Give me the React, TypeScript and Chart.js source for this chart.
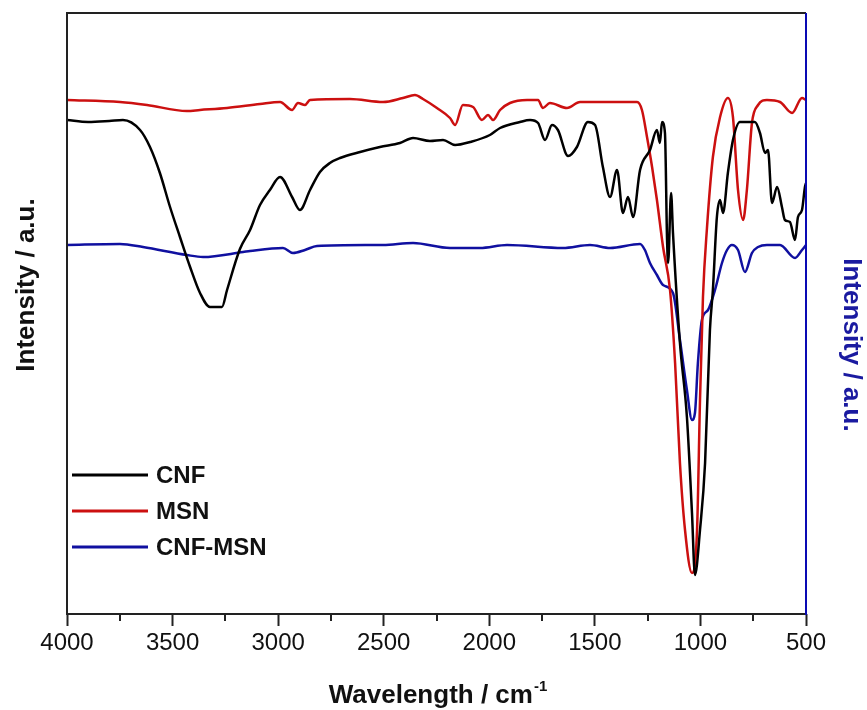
import React, { useEffect, useRef } from "react";
import { Chart, registerables } from "chart.js";

Chart.register(...registerables);

// FTIR spectra: wavenumber (cm-1) and relative intensity (a.u.)
const CNF_X = [4000, 3900, 3800, 3735, 3654, 3607, 3560, 3512, 3465, 3417, 3370, 3323, 3266, 3242, 3181, 3133, 3086, 3039, 2991, 2934, 2897, 2849, 2802, 2755, 2707, 2612, 2518, 2423, 2361, 2281, 2219, 2162, 2091, 1997, 1949, 1855, 1807, 1769, 1736, 1703, 1675, 1627, 1585, 1533, 1499, 1462, 1428, 1395, 1367, 1343, 1319, 1286, 1239, 1206, 1192, 1182, 1168, 1158, 1153, 1139, 1130, 1097, 1064, 1040, 1026, 1002, 978, 955, 941, 922, 907, 893, 870, 846, 813, 742, 718, 694, 680, 661, 637, 614, 600, 576, 552, 538, 519, 505, 500];
const CNF_Y = [494, 492, 493, 494, 484, 467, 441, 407, 377, 347, 321, 307, 307, 324, 365, 384, 409, 424, 437, 417, 404, 424, 442, 451, 456, 462, 467, 471, 476, 473, 474, 469, 472, 479, 486, 492, 494, 491, 474, 489, 484, 458, 467, 492, 489, 447, 417, 444, 401, 417, 397, 444, 464, 484, 471, 492, 481, 374, 351, 421, 381, 271, 197, 101, 39, 84, 151, 284, 324, 397, 414, 401, 441, 474, 492, 492, 481, 461, 464, 411, 427, 407, 394, 392, 374, 397, 404, 427, 431];

const MSN_X = [4000, 3749, 3621, 3432, 3370, 3242, 3086, 2991, 2934, 2906, 2873, 2849, 2660, 2503, 2409, 2352, 2314, 2248, 2186, 2162, 2125, 2077, 2035, 2006, 1982, 1949, 1902, 1821, 1769, 1746, 1713, 1632, 1570, 1300, 1277, 1253, 1229, 1206, 1177, 1144, 1120, 1097, 1073, 1040, 1016, 1002, 988, 969, 941, 907, 870, 846, 822, 798, 780, 756, 727, 685, 623, 566, 519, 500];
const MSN_Y = [514, 512, 509, 503, 504, 506, 510, 512, 504, 511, 509, 514, 515, 512, 516, 519, 515, 506, 496, 489, 509, 507, 494, 499, 494, 504, 511, 514, 514, 506, 511, 506, 512, 512, 504, 477, 447, 414, 367, 324, 251, 151, 84, 41, 84, 214, 317, 386, 457, 497, 516, 497, 424, 394, 424, 491, 509, 514, 512, 501, 516, 514];

const CNF_MSN_X = [4000, 3749, 3640, 3432, 3356, 3166, 3133, 2977, 2930, 2873, 2816, 2503, 2361, 2186, 2044, 1916, 1651, 1523, 1428, 1286, 1263, 1239, 1206, 1177, 1130, 1097, 1064, 1040, 1026, 1012, 993, 964, 931, 898, 874, 851, 822, 789, 756, 727, 685, 623, 552, 519, 500];
const CNF_MSN_Y = [369, 370, 367, 359, 357, 362, 363, 366, 361, 364, 368, 369, 371, 366, 366, 369, 366, 369, 366, 370, 364, 351, 339, 329, 321, 274, 224, 194, 201, 251, 294, 304, 324, 351, 364, 369, 364, 342, 361, 367, 369, 369, 356, 364, 369];

const SERIES_NAMES = ["CNF", "MSN", "CNF-MSN"];
const SERIES_COLORS = ["#000000", "#cc1010", "#1010a0"];
const X_TICKS_MAJOR = [4000, 3500, 3000, 2500, 2000, 1500, 1000, 500];
const X_TICKS_MINOR = [3750, 3250, 2750, 2250, 1750, 1250, 750];

const FONT = "'Liberation Sans', Arial, Helvetica, sans-serif";
const AXIS_BLUE = "#0a0ab4";
const TITLE_BLUE = "#1a1aa0";

const toPoints = (xs: number[], ys: number[]) => xs.map((x, i) => ({ x, y: ys[i] }));

const framePlugin = {
  id: "frame",
  afterDraw(chart: any) {
    const { ctx, chartArea } = chart;
    const { left, right, top, bottom } = chartArea;
    const xScale = chart.scales.x;
    ctx.save();

    // plot frame: black on three sides, blue on the right-hand axis
    ctx.lineWidth = 2;
    ctx.strokeStyle = "#222";
    ctx.beginPath();
    ctx.moveTo(right, top);
    ctx.lineTo(left, top);
    ctx.lineTo(left, bottom);
    ctx.lineTo(right, bottom);
    ctx.stroke();
    ctx.strokeStyle = AXIS_BLUE;
    ctx.beginPath();
    ctx.moveTo(right, top);
    ctx.lineTo(right, bottom + 1);
    ctx.stroke();

    // minor ticks
    ctx.strokeStyle = "#222";
    ctx.lineWidth = 2;
    X_TICKS_MINOR.forEach((v) => {
      const px = Math.round(xScale.getPixelForValue(v));
      ctx.beginPath();
      ctx.moveTo(px, bottom);
      ctx.lineTo(px, bottom + 7);
      ctx.stroke();
    });

    // x axis title with superscript
    const main = "Wavelength / cm";
    const sup = "-1";
    ctx.fillStyle = "#111";
    ctx.textBaseline = "alphabetic";
    ctx.textAlign = "left";
    ctx.font = `bold 26px ${FONT}`;
    const wMain = ctx.measureText(main).width;
    ctx.font = `bold 15px ${FONT}`;
    const wSup = ctx.measureText(sup).width;
    const cx = (left + right) / 2 + 1;
    const startX = cx - (wMain + wSup) / 2;
    ctx.font = `bold 26px ${FONT}`;
    ctx.fillText(main, startX, 703);
    ctx.font = `bold 15px ${FONT}`;
    ctx.fillText(sup, startX + wMain + 1, 691);

    // left y title
    ctx.font = `bold 26px ${FONT}`;
    ctx.textAlign = "center";
    ctx.textBaseline = "middle";
    ctx.save();
    ctx.translate(27, 285);
    ctx.rotate(-Math.PI / 2);
    ctx.fillText("Intensity / a.u.", 0, 0);
    ctx.restore();

    // right y title
    ctx.save();
    ctx.fillStyle = TITLE_BLUE;
    ctx.translate(851, 345);
    ctx.rotate(Math.PI / 2);
    ctx.fillText("Intensity / a.u.", 0, 0);
    ctx.restore();

    // legend
    const rows = [475, 511, 547];
    chart.data.datasets.forEach((ds: any, i: number) => {
      const y = rows[i];
      ctx.strokeStyle = ds.borderColor;
      ctx.lineWidth = 3;
      ctx.beginPath();
      ctx.moveTo(72, y);
      ctx.lineTo(148, y);
      ctx.stroke();
      ctx.fillStyle = "#111";
      ctx.font = `bold 24px ${FONT}`;
      ctx.textAlign = "left";
      ctx.textBaseline = "middle";
      ctx.fillText(ds.label, 156, y + 1);
    });

    ctx.restore();
  },
};

export default function App() {
  const canvasRef = useRef<HTMLCanvasElement | null>(null);

  useEffect(() => {
    const canvas = canvasRef.current;
    if (!canvas) return;
    const seriesX = [CNF_X, MSN_X, CNF_MSN_X];
    const seriesY = [CNF_Y, MSN_Y, CNF_MSN_Y];
    const chart = new Chart(canvas, {
      type: "line",
      data: {
        datasets: SERIES_NAMES.map((name, i) => ({
          label: name,
          data: toPoints(seriesX[i], seriesY[i]),
          borderColor: SERIES_COLORS[i],
          backgroundColor: SERIES_COLORS[i],
          borderWidth: 2.5,
          pointRadius: 0,
          cubicInterpolationMode: "monotone",
          fill: false,
        })),
      },
      options: {
        animation: false,
        responsive: false,
        maintainAspectRatio: false,
        layout: { padding: { left: 67, right: 61, top: 13, bottom: 0 } },
        plugins: { legend: { display: false }, tooltip: { enabled: false } },
        scales: {
          x: {
            type: "linear",
            reverse: true,
            min: 500,
            max: 4000,
            afterFit: (scale: any) => {
              scale.height = 96;
            },
            afterBuildTicks: (scale: any) => {
              scale.ticks = X_TICKS_MAJOR.map((v) => ({ value: v }));
            },
            border: { display: false },
            grid: {
              drawOnChartArea: false,
              drawTicks: true,
              tickLength: 12,
              tickWidth: 2,
              tickColor: "#222",
            },
            ticks: {
              autoSkip: false,
              maxRotation: 0,
              padding: 3,
              color: "#111",
              font: { family: FONT, size: 24 },
              callback: (v: any) => String(v),
            },
          },
          y: {
            display: false,
            min: 0,
            max: 601,
          },
        },
      },
      plugins: [framePlugin],
    });
    return () => chart.destroy();
  }, []);

  return (
    <div style={{ position: "absolute", left: 0, top: 0, width: 867, height: 710, background: "#fff" }}>
      <canvas ref={canvasRef} width={867} height={710} style={{ display: "block" }} />
    </div>
  );
}
